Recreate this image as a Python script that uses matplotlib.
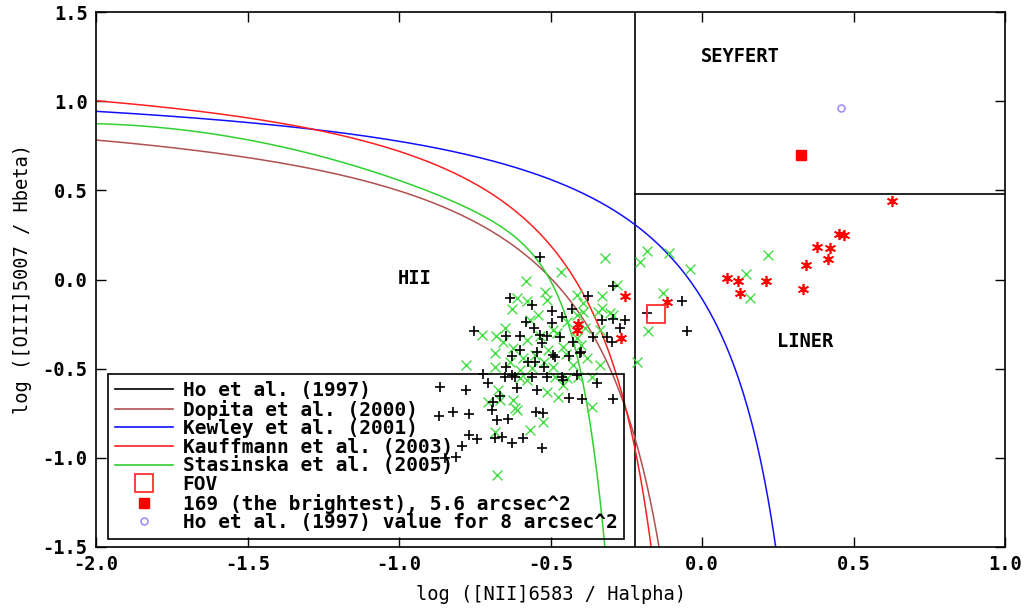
import numpy as np
import matplotlib
matplotlib.use("Agg")
import matplotlib.pyplot as plt
from matplotlib.lines import Line2D

# BPT-style diagnostic: log([NII]/Ha) vs log([OIII]/Hb)

# black "+" sample
ho_x = [-0.535, -0.634, -0.562, -0.496, -0.430, -0.375, -0.295, -0.582, -0.554, -0.752,
        -0.647, -0.601, -0.513, -0.469, -0.496, -0.463, -0.331, -0.293, -0.254, -0.271,
        -0.359, -0.315, -0.298, -0.183, -0.067, -0.049, -0.529, -0.491, -0.485, -0.523,
        -0.438, -0.400, -0.546, -0.647, -0.722, -0.705, -0.650, -0.617, -0.612, -0.546,
        -0.513, -0.463, -0.414, -0.346, -0.667, -0.689, -0.694, -0.438, -0.397, -0.293,
        -0.865, -0.779, -0.867, -0.823, -0.768, -0.678, -0.640, -0.548, -0.524, -0.768,
        -0.741, -0.683, -0.659, -0.628, -0.590, -0.529, -0.793, -0.812, -0.848, -0.425,
        -0.403, -0.551, -0.458, -0.562, -0.535, -0.627, -0.601, -0.574, -0.627]
ho_y = [0.128, -0.102, -0.143, -0.177, -0.167, -0.091, -0.035, -0.237, -0.274, -0.287,
        -0.317, -0.317, -0.317, -0.321, -0.246, -0.212, -0.227, -0.223, -0.227, -0.274,
        -0.321, -0.321, -0.349, -0.190, -0.121, -0.289, -0.358, -0.423, -0.436, -0.489,
        -0.429, -0.405, -0.405, -0.492, -0.530, -0.582, -0.545, -0.545, -0.610, -0.620,
        -0.545, -0.545, -0.536, -0.579, -0.652, -0.685, -0.732, -0.666, -0.672, -0.672,
        -0.604, -0.620, -0.764, -0.742, -0.756, -0.788, -0.784, -0.742, -0.750, -0.872,
        -0.897, -0.891, -0.885, -0.919, -0.891, -0.947, -0.934, -0.994, -1.000, -0.349,
        -0.414, -0.461, -0.564, -0.545, -0.311, -0.535, -0.395, -0.463, -0.429]

# green "x" sample
gx = [-0.320, -0.183, -0.205, -0.108, -0.040, -0.466, -0.582, -0.518, -0.282, -0.128,
      -0.611, -0.628, -0.578, -0.513, -0.414, -0.331, -0.392, -0.342, -0.293, -0.177,
      -0.216, -0.727, -0.680, -0.656, -0.683, -0.623, -0.578, -0.535, -0.491, -0.447,
      -0.414, -0.386, -0.337, -0.414, -0.458, -0.507, -0.551, -0.590, -0.634, -0.779,
      -0.683, -0.601, -0.562, -0.491, -0.425, -0.381, -0.337, -0.485, -0.447, -0.408,
      -0.364, -0.578, -0.458, -0.513, -0.474, -0.673, -0.601, -0.706, -0.623, -0.612,
      -0.667, -0.617, -0.524, -0.683, -0.568, -0.678, -0.364, -0.650, 0.219, 0.145,
      0.158, -0.568, -0.540, -0.480, -0.450, -0.520, -0.400, -0.392, -0.330, -0.304]
gy = [0.119, 0.161, 0.100, 0.150, 0.057, 0.044, -0.007, -0.068, -0.031, -0.077,
      -0.105, -0.167, -0.119, -0.115, -0.087, -0.093, -0.181, -0.181, -0.199, -0.287,
      -0.461, -0.311, -0.317, -0.349, -0.410, -0.386, -0.339, -0.317, -0.283, -0.237,
      -0.199, -0.274, -0.283, -0.330, -0.377, -0.395, -0.423, -0.442, -0.461, -0.479,
      -0.489, -0.507, -0.498, -0.489, -0.479, -0.442, -0.479, -0.545, -0.554, -0.545,
      -0.545, -0.564, -0.592, -0.629, -0.657, -0.620, -0.554, -0.686, -0.676, -0.732,
      -0.676, -0.719, -0.798, -0.854, -0.844, -1.096, -0.716, -0.274, 0.139, 0.031,
      -0.102, -0.227, -0.200, -0.300, -0.420, -0.460, -0.370, -0.132, -0.160, -0.188]

# red asterisks
rx = [0.082, 0.120, 0.125, 0.210, 0.334, 0.343, 0.379, 0.422, 0.417, 0.453,
      0.469, 0.627, -0.117, -0.254, -0.410, -0.414, -0.268]
ry = [0.007, -0.007, -0.074, -0.007, -0.052, 0.081, 0.184, 0.178, 0.116, 0.257,
      0.251, 0.440, -0.125, -0.091, -0.252, -0.284, -0.327]

fov = (-0.152, -0.194)
brightest = (0.327, 0.698)
ho_8arcsec = (0.459, 0.962)

# Ho et al. (1997) boundaries
ho_nii = -0.222
ho_oiii = 0.477

# demarcation curves y = a / (x - b) + c
kewley = (0.61, 0.47, 1.19)
kauffmann = (0.61, 0.05, 1.30)
dopita = (0.673, 0.117, 1.10)
stas = (-30.787, 1.1358, 0.27297, 5.7409, -31.093)

mono = 'DejaVu Sans Mono'
plt.rcParams['font.family'] = mono
plt.rcParams['font.weight'] = 'bold'

fig = plt.figure(figsize=(10.29, 6.11), dpi=100)
ax = fig.add_axes([96 / 1029, 1 - 547 / 611, 909 / 1029, 535 / 611])


def hyper(p, xmax):
    a, b, c = p
    x = np.linspace(-2.0, xmax, 800)
    return x, a / (x - b) + c


xs = np.linspace(-2.0, 0.0, 1500)
ys = (stas[0] + stas[1] * xs + stas[2] * xs ** 2) * np.tanh(stas[3] * xs) + stas[4]

ax.plot([ho_nii, ho_nii], [-1.5, 1.5], color='black', lw=1.2)
ax.plot([ho_nii, 1.0], [ho_oiii, ho_oiii], color='black', lw=1.2)
ax.plot(*hyper(dopita, dopita[1] - 0.005), color='#b05050', lw=1.1)
ax.plot(*hyper(kewley, kewley[1] - 0.005), color='#1010ff', lw=1.1)
ax.plot(*hyper(kauffmann, kauffmann[1] - 0.005), color='#ff2020', lw=1.1)
ax.plot(xs, ys, color='#30d030', lw=1.1)

ax.scatter(gx, gy, marker='x', s=50, color='#44dd44', linewidths=1.0, zorder=3)
ax.scatter(ho_x, ho_y, marker='+', s=45, color='black', linewidths=1.2, zorder=4)
ax.plot(rx, ry, ls='none', marker=(6, 2, 0), ms=8, mec='red', mew=1.2, zorder=5)
ax.plot(rx, ry, ls='none', marker='o', ms=3, color='red', zorder=5)
ax.plot(*fov, ls='none', marker='s', ms=13, mfc='none', mec='#ff3030', mew=1.3, zorder=6)
ax.plot(*brightest, ls='none', marker='s', ms=7, color='red', zorder=6)
ax.plot(*ho_8arcsec, ls='none', marker='o', ms=5, mfc='none', mec='#9f8fff', mew=1.2, zorder=6)

ax.text(-0.947, 0.008, 'HII', ha='center', va='center', fontsize=13.5)
ax.text(0.125, 1.253, 'SEYFERT', ha='center', va='center', fontsize=13.5)
ax.text(0.340, -0.345, 'LINER', ha='center', va='center', fontsize=13.5)

ax.set_xlim(-2.0, 1.0)
ax.set_ylim(-1.5, 1.5)
ax.set_xticks(np.arange(-2.0, 1.01, 0.5))
ax.set_yticks(np.arange(-1.5, 1.51, 0.5))
ax.xaxis.set_major_formatter(plt.FormatStrFormatter('%.1f'))
ax.yaxis.set_major_formatter(plt.FormatStrFormatter('%.1f'))
ax.tick_params(direction='in', length=7, width=1, top=True, right=True,
               labelsize=13.5, pad=6)
for s in ax.spines.values():
    s.set_linewidth(1.2)
ax.set_xlabel('log ([NII]6583 / Halpha)', fontsize=13.5, labelpad=8)
ax.set_ylabel('log ([OIII]5007 / Hbeta)', fontsize=13.5, labelpad=8)

handles = [
    Line2D([], [], color='black', lw=1.2),
    Line2D([], [], color='#b05050', lw=1.2),
    Line2D([], [], color='#1010ff', lw=1.2),
    Line2D([], [], color='#ff2020', lw=1.2),
    Line2D([], [], color='#30d030', lw=1.2),
    Line2D([], [], ls='none', marker='s', ms=13, mfc='none', mec='#ff3030', mew=1.3),
    Line2D([], [], ls='none', marker='s', ms=7, color='red'),
    Line2D([], [], ls='none', marker='o', ms=5, mfc='none', mec='#9f8fff', mew=1.2),
]
labels = ['Ho et al. (1997)', 'Dopita et al. (2000)', 'Kewley et al. (2001)',
          'Kauffmann et al. (2003)', 'Stasinska et al. (2005)', 'FOV',
          '169 (the brightest), 5.6 arcsec^2', 'Ho et al. (1997) value for 8 arcsec^2']
leg = ax.legend(handles, labels, loc='lower left', bbox_to_anchor=(0.013, 0.015),
                borderaxespad=0, fancybox=False, framealpha=1, facecolor='none',
                edgecolor='black', fontsize=14, handlelength=3.0,
                handletextpad=0.5, labelspacing=-0.02, borderpad=0.35)
leg.get_frame().set_linewidth(1.2)

fig.savefig('out.png', dpi=100)
